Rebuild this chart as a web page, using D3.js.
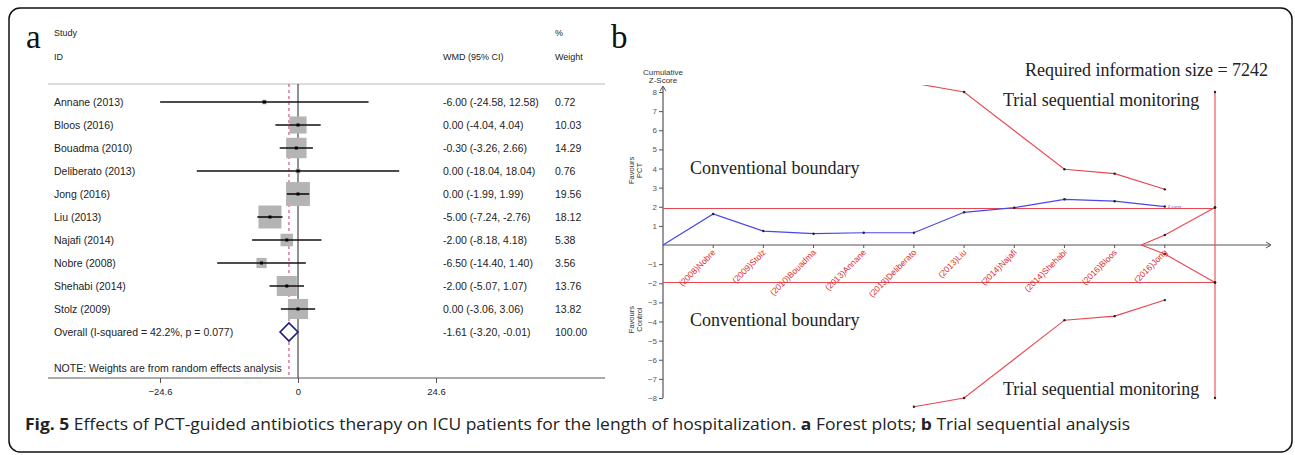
<!DOCTYPE html>
<html>
<head>
<meta charset="utf-8">
<script src="https://cdn.jsdelivr.net/npm/d3@7"></script>
<style>
  body { margin: 0; background: #fff; }
  svg text { font-family: "Liberation Sans", Arial, sans-serif; }
  .serif { font-family: "Liberation Serif", "Times New Roman", serif !important; }
</style>
</head>
<body>
<svg id="chart"></svg>
<script>
// ---- panel a: forest plot data ----
const studies = ['Annane (2013)', 'Bloos (2016)', 'Bouadma (2010)', 'Deliberato (2013)', 'Jong (2016)',
  'Liu (2013)', 'Najafi (2014)', 'Nobre (2008)', 'Shehabi (2014)', 'Stolz (2009)'];
const wmd = [-6.00, 0.00, -0.30, 0.00, 0.00, -5.00, -2.00, -6.50, -2.00, 0.00];
const ciLow = [-24.58, -4.04, -3.26, -18.04, -1.99, -7.24, -8.18, -14.40, -5.07, -3.06];
const ciHigh = [12.58, 4.04, 2.66, 18.04, 1.99, -2.76, 4.18, 1.40, 1.07, 3.06];
const weights = [0.72, 10.03, 14.29, 0.76, 19.56, 18.12, 5.38, 3.56, 13.76, 13.82];
const overall = { label: 'Overall  (I-squared = 42.2%, p = 0.077)', est: -1.61, lo: -3.20, hi: -0.01, weight: 100.00 };
const forestTicks = [-24.6, 0, 24.6];

// ---- panel b: trial sequential analysis data ----
const tsaLabels = ['(2008)Nobre', '(2009)Stolz', '(2010)Bouadma', '(2013)Annane', '(2013)Deliberato',
  '(2013)Liu', '(2014)Najafi', '(2014)Shehabi', '(2016)Bloos', '(2016)Jong'];
const zCurve = [0, 1.62, 0.73, 0.59, 0.64, 0.64, 1.71, 1.95, 2.39, 2.29, 2.01];
const tsmUpper = [[5, 8.46], [6, 8.0], [8, 3.96], [9, 3.73], [10, 2.91]];
const tsmLower = [[5, -8.46], [6, -8.0], [8, -3.93], [9, -3.72], [10, -2.88]];
const futUpper = [[9.53, 0], [10, 0.52], [11, 1.96]];
const futLower = [[9.53, 0], [10, -0.47], [11, -1.96]];
const risLine = [[11, 8], [11, -8]];
const conventional = 1.96;
const zTicks = [-8, -7, -6, -5, -4, -3, -2, -1, 1, 2, 3, 4, 5, 6, 7, 8];

const W = 1295, H = 455;
const svg = d3.select('#chart').attr('width', W).attr('height', H);

// outer frame
svg.append('rect')
  .attr('x', 9).attr('y', 8).attr('width', 1283).attr('height', 444)
  .attr('rx', 11).attr('fill', 'none').attr('stroke', '#111').attr('stroke-width', 1.5);

// ================= panel a =================
const ga = svg.append('g');
const x = d3.scaleLinear().domain([-24.6, 24.6]).range([160, 436]);
const y = d3.scaleLinear().domain([0, 10]).range([102, 332]);

ga.append('text').attr('class', 'serif').attr('x', 26).attr('y', 48)
  .attr('font-size', 33).attr('fill', '#111').text('a');

const hdr = ga.append('g').attr('font-size', 9).attr('fill', '#222');
hdr.append('text').attr('x', 54).attr('y', 36).text('Study');
hdr.append('text').attr('x', 54).attr('y', 60).text('ID');
hdr.append('text').attr('x', 443).attr('y', 60).text('WMD (95% CI)');
hdr.append('text').attr('x', 555).attr('y', 36).text('%');
hdr.append('text').attr('x', 555).attr('y', 60).text('Weight');

ga.append('line').attr('x1', 48).attr('x2', 605).attr('y1', 84).attr('y2', 84)
  .attr('stroke', '#bbb').attr('stroke-width', 1);

// reference lines
ga.append('line').attr('x1', x(0)).attr('x2', x(0)).attr('y1', 84).attr('y2', 378)
  .attr('stroke', '#222').attr('stroke-width', 1);
ga.append('line').attr('x1', x(overall.est)).attr('x2', x(overall.est)).attr('y1', 84).attr('y2', 378)
  .attr('stroke', '#c43a5a').attr('stroke-width', 1).attr('stroke-dasharray', '3,3');

const rows = studies.map((s, i) => ({ s, i, est: wmd[i], lo: ciLow[i], hi: ciHigh[i], w: weights[i] }));

// weight boxes
ga.selectAll('.box').data(rows).enter().append('rect')
  .attr('class', 'box')
  .attr('x', d => x(d.est) - 2.7 * Math.sqrt(d.w))
  .attr('y', d => y(d.i) - 2.7 * Math.sqrt(d.w))
  .attr('width', d => 5.4 * Math.sqrt(d.w))
  .attr('height', d => 5.4 * Math.sqrt(d.w))
  .attr('fill', '#b4b4b4');

ga.selectAll('.ci').data(rows).enter().append('line')
  .attr('class', 'ci')
  .attr('x1', d => x(d.lo)).attr('x2', d => x(d.hi))
  .attr('y1', d => y(d.i)).attr('y2', d => y(d.i))
  .attr('stroke', '#111').attr('stroke-width', 1.6);

ga.selectAll('.pt').data(rows).enter().append('rect')
  .attr('class', 'pt')
  .attr('x', d => x(d.est) - 1.5).attr('y', d => y(d.i) - 1.5)
  .attr('width', 3).attr('height', 3).attr('fill', '#000');

const txt = ga.append('g').attr('font-size', 10.5).attr('fill', '#222');
txt.selectAll('.lab').data(rows).enter().append('text')
  .attr('x', 54).attr('y', d => y(d.i) + 3.5).text(d => d.s);
txt.selectAll('.eff').data(rows).enter().append('text')
  .attr('x', 443).attr('y', d => y(d.i) + 3.5)
  .text(d => `${d.est.toFixed(2)} (${d.lo.toFixed(2)}, ${d.hi.toFixed(2)})`);
txt.selectAll('.wt').data(rows).enter().append('text')
  .attr('x', 555).attr('y', d => y(d.i) + 3.5).text(d => d.w.toFixed(2));

// overall
const yo = y(10);
ga.append('path')
  .attr('d', `M${x(overall.lo)},${yo} L${x(overall.est)},${yo - 9} L${x(overall.hi)},${yo} L${x(overall.est)},${yo + 9} Z`)
  .attr('fill', '#fff').attr('stroke', '#1a1a80').attr('stroke-width', 1.6);
txt.append('text').attr('x', 54).attr('y', yo + 3.5).text(overall.label);
txt.append('text').attr('x', 443).attr('y', yo + 3.5)
  .text(`${overall.est.toFixed(2)} (${overall.lo.toFixed(2)}, ${overall.hi.toFixed(2)})`);
txt.append('text').attr('x', 555).attr('y', yo + 3.5).text(overall.weight.toFixed(2));
txt.append('text').attr('x', 54).attr('y', 371.5).text('NOTE: Weights are from random effects analysis');

// x axis
ga.append('line').attr('x1', 48).attr('x2', 605).attr('y1', 378).attr('y2', 378)
  .attr('stroke', '#555').attr('stroke-width', 1);
const xAxisA = ga.append('g').attr('transform', 'translate(0,378)')
  .call(d3.axisBottom(x).tickValues(forestTicks).tickSize(5).tickFormat(d => d === 0 ? '0' : d3.format('.1f')(d)));
xAxisA.select('.domain').remove();
xAxisA.selectAll('line').attr('stroke', '#555');
xAxisA.selectAll('text').attr('font-size', 9.5).attr('fill', '#222').attr('dy', '0.95em')
  .style('font-family', '"Liberation Sans", Arial, sans-serif');

// ================= panel b =================
const gb = svg.append('g');
const xb = d3.scaleLinear().domain([0, 11]).range([663, 1215]);
const yb = d3.scaleLinear().domain([-8, 8]).range([398, 92]);
const red = '#e8474f', blue = '#4848e8';

gb.append('text').attr('class', 'serif').attr('x', 611).attr('y', 48)
  .attr('font-size', 33).attr('fill', '#111').text('b');

// y axis
const yAxisB = gb.append('g').attr('transform', `translate(${xb(0)},0)`)
  .call(d3.axisLeft(yb).tickValues(zTicks).tickSize(4).tickPadding(2));
yAxisB.select('.domain').remove();
yAxisB.selectAll('line').attr('stroke', '#555');
yAxisB.selectAll('text').attr('font-size', 8).attr('fill', '#555')
  .style('font-family', '"Liberation Sans", Arial, sans-serif');
gb.append('line').attr('x1', xb(0)).attr('x2', xb(0)).attr('y1', yb(-8)).attr('y2', 87)
  .attr('stroke', '#555').attr('stroke-width', 1.2);
gb.append('path').attr('d', `M${xb(0) - 3},${91} L${xb(0)},${86} L${xb(0) + 3},${91}`)
  .attr('fill', 'none').attr('stroke', '#555').attr('stroke-width', 1);

// x axis
gb.append('line').attr('x1', xb(0)).attr('x2', 1270).attr('y1', yb(0)).attr('y2', yb(0))
  .attr('stroke', '#555').attr('stroke-width', 1.2);
gb.append('path').attr('d', `M1266,${yb(0) - 3} L1271,${yb(0)} L1266,${yb(0) + 3}`)
  .attr('fill', 'none').attr('stroke', '#555').attr('stroke-width', 1);
gb.selectAll('.xt').data(tsaLabels).enter().append('line')
  .attr('class', 'xt')
  .attr('x1', (d, i) => xb(i + 1)).attr('x2', (d, i) => xb(i + 1))
  .attr('y1', yb(0)).attr('y2', yb(0) + 3).attr('stroke', '#555');

gb.append('g').attr('font-size', 8).attr('fill', '#333').attr('text-anchor', 'middle')
  .selectAll('text').data(['Cumulative', 'Z-Score']).enter().append('text')
  .attr('x', xb(0)).attr('y', (d, i) => 75 + i * 8).text(d => d);

function favours(lines, cy) {
  const g = gb.append('g').attr('transform', `translate(634,${cy}) rotate(-90)`)
    .attr('font-size', 7.5).attr('fill', '#333').attr('text-anchor', 'middle');
  g.selectAll('text').data(lines).enter().append('text')
    .attr('x', 0).attr('y', (d, i) => i * 7.5).text(d => d);
}
favours(['Favours', 'PCT'], yb(3.9));
favours(['Favours', 'Control'], yb(-3.9));

const line = d3.line().x(d => xb(d[0])).y(d => yb(d[1]));
svg.append('clipPath').attr('id', 'plotclip').append('rect')
  .attr('x', 600).attr('y', 85).attr('width', 690).attr('height', 340);
const clipped = gb.append('g').attr('clip-path', 'url(#plotclip)');

// conventional boundaries (snapped to the pixel grid so they stay crisp red)
clipped.selectAll('.conv').data([conventional, -conventional]).enter().append('line')
  .attr('class', 'conv')
  .attr('x1', xb(0)).attr('x2', xb(11))
  .attr('y1', d => Math.round(yb(d)) + 0.5).attr('y2', d => Math.round(yb(d)) + 0.5)
  .attr('stroke', red).attr('stroke-width', 1);

[tsmUpper, tsmLower, futUpper, futLower, risLine].forEach(pts => {
  clipped.append('path').attr('d', line(pts)).attr('fill', 'none')
    .attr('stroke', red).attr('stroke-width', 1.1);
});

const zPts = zCurve.map((v, i) => [i, v]);
clipped.append('path').attr('d', line(zPts)).attr('fill', 'none')
  .attr('stroke', blue).attr('stroke-width', 1.2);
gb.append('text').attr('x', xb(10) + 3).attr('y', yb(zCurve[10]) + 1.5)
  .attr('font-size', 4).attr('fill', blue).text('Z-curve');

const dots = [...zPts.slice(1), ...tsmUpper, ...tsmLower, ...futUpper.slice(1), ...futLower.slice(1),
  ...risLine, [11, conventional], [11, -conventional]];
clipped.selectAll('.dot').data(dots).enter().append('circle')
  .attr('class', 'dot')
  .attr('cx', d => xb(d[0])).attr('cy', d => yb(d[1])).attr('r', 1.2).attr('fill', '#222');

gb.selectAll('.slab').data(tsaLabels).enter().append('text')
  .attr('class', 'slab')
  .attr('transform', (d, i) => `translate(${xb(i + 1) + 3},${yb(0) + 8}) rotate(-45)`)
  .attr('text-anchor', 'end').attr('font-size', 8.5).attr('fill', '#e02a2a').text(d => d);

const notes = gb.append('g').attr('font-size', 18).attr('fill', '#222');
notes.append('text').attr('class', 'serif').attr('x', 690).attr('y', 174).text('Conventional boundary');
notes.append('text').attr('class', 'serif').attr('x', 690).attr('y', 326).text('Conventional boundary');
notes.append('text').attr('class', 'serif').attr('x', 1025).attr('y', 76).text('Required information size = 7242');
notes.append('text').attr('class', 'serif').attr('x', 1003).attr('y', 106).text('Trial sequential monitoring');
notes.append('text').attr('class', 'serif').attr('x', 1003).attr('y', 395).text('Trial sequential monitoring');

// caption
const cap = svg.append('text').attr('x', 25).attr('y', 430).attr('font-size', 16.5).attr('fill', '#222')
  .style('font-family', '"Open Sans", "Noto Sans", sans-serif')
  .attr('textLength', 1105).attr('lengthAdjust', 'spacingAndGlyphs');
cap.append('tspan').attr('font-weight', 'bold').text('Fig. 5');
cap.append('tspan').text(' Effects of PCT-guided antibiotics therapy on ICU patients for the length of hospitalization. ');
cap.append('tspan').attr('font-weight', 'bold').text('a');
cap.append('tspan').text(' Forest plots; ');
cap.append('tspan').attr('font-weight', 'bold').text('b');
cap.append('tspan').text(' Trial sequential analysis');
</script>
</body>
</html>
